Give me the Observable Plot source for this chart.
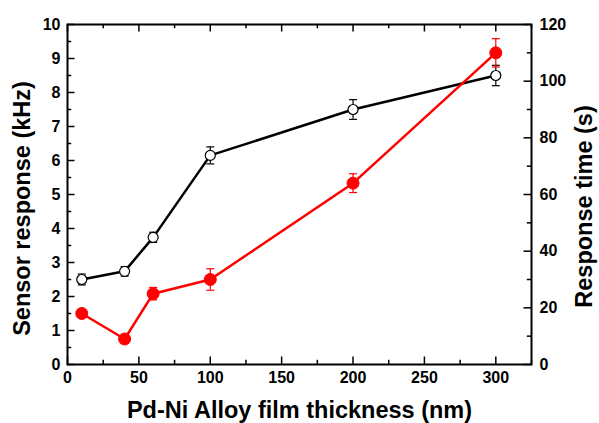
<!DOCTYPE html>
<html>
<head>
<meta charset="utf-8">
<script src="https://cdn.jsdelivr.net/npm/d3@7"></script>
<script src="https://cdn.jsdelivr.net/npm/@observablehq/plot@0.6"></script>
<style>
  html, body { margin: 0; padding: 0; background: #fff; }
</style>
</head>
<body>
<div id="chart"></div>
<script>
// Data
const thickness = [10, 40, 60, 100, 200, 300];            // nm
const sensorResponse = [2.5, 2.74, 3.74, 6.15, 7.5, 8.5];  // kHz
const sensorErr = [0.16, 0.14, 0.15, 0.25, 0.29, 0.3];      // kHz
const responseTime = [18, 9, 25, 30, 64, 110];             // s
const responseErr = [0, 0, 2.2, 3.8, 3.3, 5];              // s

const xMajor = [0, 50, 100, 150, 200, 250, 300];
const xMinor = [25, 75, 125, 175, 225, 275, 325];
const yLeftMajor = [0, 1, 2, 3, 4, 5, 6, 7, 8, 9, 10];
const yLeftMinor = [0.5, 1.5, 2.5, 3.5, 4.5, 5.5, 6.5, 7.5, 8.5, 9.5];
const yRightMajor = [0, 20, 40, 60, 80, 100, 120];
const yRightMinor = [10, 30, 50, 70, 90, 110];

const xTitle = "Pd-Ni Alloy film thickness (nm)";
const yLeftTitle = "Sensor response (kHz)";
const yRightTitle = "Response time (s)";

const ratio = 12; // s per kHz on the twin axis (120 s ↔ 10 kHz)

const sensor = thickness.map((t, i) => ({t, v: sensorResponse[i], e: sensorErr[i]}));
const rtime = thickness.map((t, i) => ({t, v: responseTime[i] / ratio, e: responseErr[i] / ratio}));

const W = 599, H = 423;
const mL = 67, mR = 68, mT = 24, mB = 59;
const innerW = W - mL - mR, innerH = H - mT - mB;
const tl = 7.5, tm = 4.2;

const capSymbol = {
  draw(ctx, size) {
    const w = Math.sqrt(size / Math.PI);
    ctx.moveTo(-w, 0);
    ctx.lineTo(w, 0);
  }
};

function errMarks(data, color) {
  return [
    Plot.ruleX(data.filter(d => d.e > 0), {x: "t", y1: d => d.v - d.e, y2: d => d.v + d.e, stroke: color, strokeWidth: 1.2}),
    Plot.dot(data.filter(d => d.e > 0), {x: "t", y: d => d.v + d.e, symbol: capSymbol, r: 4, stroke: color, strokeWidth: 1.2}),
    Plot.dot(data.filter(d => d.e > 0), {x: "t", y: d => d.v - d.e, symbol: capSymbol, r: 4, stroke: color, strokeWidth: 1.2})
  ];
}

const chart = Plot.plot({
  width: W,
  height: H,
  marginLeft: mL,
  marginRight: mR,
  marginTop: mT,
  marginBottom: mB,
  style: {fontFamily: "Arial, 'Liberation Sans', sans-serif", fontSize: "16px", fontWeight: "bold", color: "black", background: "white"},
  x: {domain: [0, 325]},
  y: {domain: [0, 10]},
  marks: [
    // ticks (inward)
    Plot.tickX(xMajor, {x: d => d, insetTop: innerH - tl, stroke: "black", strokeWidth: 1.5}),
    Plot.tickX(xMinor, {x: d => d, insetTop: innerH - tm, stroke: "black", strokeWidth: 1.5}),
    Plot.tickX(xMajor, {x: d => d, insetBottom: innerH - tl, stroke: "black", strokeWidth: 1.5}),
    Plot.tickX(xMinor, {x: d => d, insetBottom: innerH - tm, stroke: "black", strokeWidth: 1.5}),
    Plot.tickY(yLeftMajor, {y: d => d, insetRight: innerW - tl, stroke: "black", strokeWidth: 1.5}),
    Plot.tickY(yLeftMinor, {y: d => d, insetRight: innerW - tm, stroke: "black", strokeWidth: 1.5}),
    Plot.tickY(yRightMajor, {y: d => d / ratio, insetLeft: innerW - tl, stroke: "black", strokeWidth: 1.5}),
    Plot.tickY(yRightMinor, {y: d => d / ratio, insetLeft: innerW - tm, stroke: "black", strokeWidth: 1.5}),
    // axes labels
    Plot.axisX({ticks: xMajor, tickSize: 0, tickPadding: 7, label: null, fontSize: 16}),
    Plot.axisY({anchor: "left", ticks: yLeftMajor, tickSize: 0, tickPadding: 7, label: null, tickFormat: d => d, fontSize: 16}),
    Plot.axisY({anchor: "right", ticks: yRightMajor.map(d => d / ratio), tickSize: 0, tickPadding: 8, label: null, tickFormat: d => Math.round(d * ratio), fontSize: 16}),
    // data
    Plot.line(sensor, {x: "t", y: "v", stroke: "black", strokeWidth: 2.5}),
    Plot.line(rtime, {x: "t", y: "v", stroke: "#ff0000", strokeWidth: 2.5}),
    ...errMarks(sensor, "black"),
    ...errMarks(rtime, "#ff0000"),
    Plot.dot(sensor, {x: "t", y: "v", r: 5, fill: "white", stroke: "black", strokeWidth: 1.2}),
    Plot.dot(rtime, {x: "t", y: "v", r: 6, fill: "#ff0000", stroke: "#ff0000", strokeWidth: 1}),
    Plot.frame({stroke: "black", strokeWidth: 2}),
    // titles
    Plot.text([xTitle], {frameAnchor: "bottom", dy: 46, fontSize: 23.5, fontWeight: "bold", textAnchor: "middle", lineAnchor: "middle", fill: "black"}),
    Plot.text([yLeftTitle], {frameAnchor: "left", rotate: -90, dx: -45, dy: 14, fontSize: 23.5, fontWeight: "bold", textAnchor: "middle", lineAnchor: "middle", fill: "black"}),
    Plot.text([yRightTitle], {frameAnchor: "right", rotate: -90, dx: 53, dy: 12, fontSize: 23.5, fontWeight: "bold", textAnchor: "middle", lineAnchor: "middle", fill: "black"})
  ]
});
document.getElementById("chart").appendChild(chart);
</script>
</body>
</html>
